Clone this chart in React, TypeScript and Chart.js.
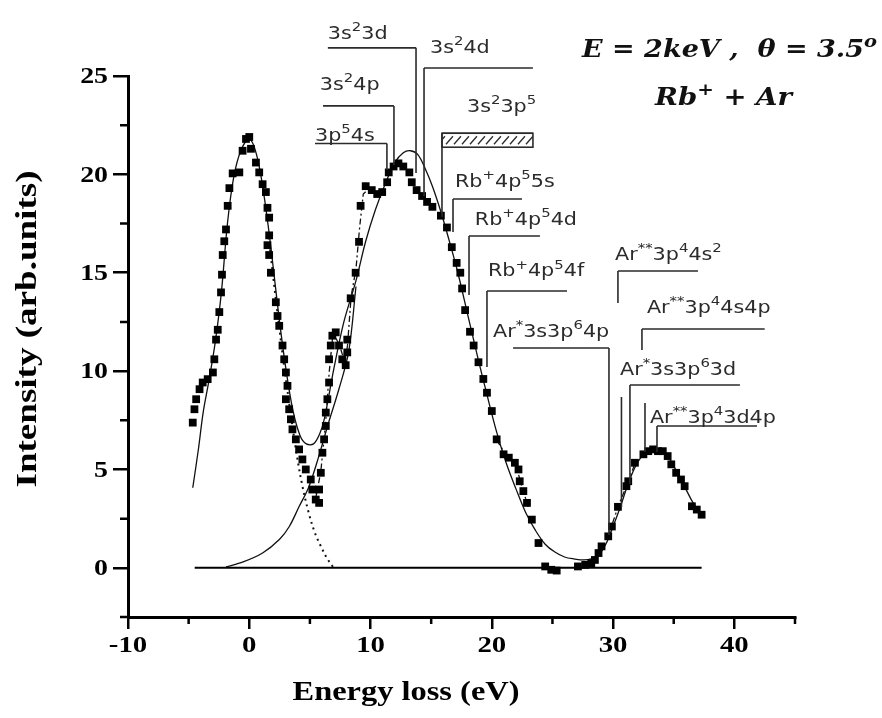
import React, { useEffect, useRef } from "react";
import { Chart, registerables } from "chart.js";
Chart.register(...registerables);

// ---------- data (energy loss eV, intensity arb. units) ----------
const expX = [-4.66, -4.52, -4.38, -4.1, -3.84, -3.43, -3.0, -2.88, -2.74, -2.6, -2.47, -2.33, -2.25, -2.19, -2.06, -1.92, -1.78, -1.64, -1.37, -0.82, -0.55, -0.27, 0, 0.14, 0.55, 0.82, 1.1, 1.37, 1.5, 1.64, 1.64, 1.5, 1.64, 1.78, 2.19, 2.33, 2.47, 2.74, 2.88, 3.02, 3.15, 3.02, 3.29, 3.43, 3.56, 3.84, 4.11, 4.38, 4.66, 5.07, 5.2, 5.48, 5.76, 5.76, 5.9, 6.03, 6.17, 6.31, 6.31, 6.44, 6.58, 6.58, 6.72, 6.85, 7.13, 7.4, 7.67, 7.95, 8.08, 8.08, 8.36, 8.77, 9.05, 9.18, 9.6, 10.1, 10.55, 10.96, 11.37, 11.5, 11.9, 12.3, 12.7, 13.2, 13.4, 13.8, 14.25, 14.66, 15.1, 15.8, 16.3, 16.7, 17.1, 17.4, 17.55, 17.8, 18.2, 18.5, 18.9, 19.3, 19.6, 20.0, 20.4, 20.97, 21.4, 21.9, 22.2, 22.3, 22.6, 22.9, 23.3, 23.85, 24.4, 24.9, 25.35, 27.1, 27.7, 28.2, 28.5, 28.8, 29.05, 29.6, 29.9, 30.4, 31.1, 31.25, 31.8, 32.5, 32.9, 33.3, 33.7, 34.1, 34.5, 34.8, 35.2, 35.6, 35.9, 36.5, 36.9, 37.3];
const expY = [7.38, 8.06, 8.57, 9.08, 9.42, 9.59, 9.93, 10.6, 11.6, 12.1, 13.0, 14.0, 14.9, 15.9, 16.6, 17.2, 18.4, 19.3, 20.05, 20.1, 21.2, 21.8, 21.9, 21.3, 20.6, 20.1, 19.5, 19.1, 18.3, 17.8, 16.9, 16.4, 15.9, 15.0, 13.5, 12.8, 12.3, 11.3, 10.6, 9.93, 9.25, 8.57, 8.06, 7.55, 7.04, 6.53, 6.02, 5.51, 5.0, 4.49, 3.98, 3.47, 3.3, 3.98, 4.83, 5.85, 6.53, 7.21, 7.89, 8.57, 9.42, 10.6, 11.3, 11.8, 11.97, 11.3, 10.6, 10.3, 10.95, 11.6, 13.7, 15.0, 16.57, 18.4, 19.4, 19.2, 19.0, 19.1, 19.6, 20.1, 20.4, 20.56, 20.4, 20.1, 19.6, 19.2, 18.9, 18.6, 18.35, 17.9, 17.3, 16.3, 15.5, 15.0, 14.2, 13.1, 12.0, 11.3, 10.45, 9.6, 8.9, 7.97, 6.53, 5.77, 5.6, 5.34, 5.0, 4.4, 3.9, 3.3, 2.45, 1.26, 0.07, -0.1, -0.14, 0.07, 0.15, 0.24, 0.4, 0.75, 1.09, 1.6, 2.1, 3.1, 4.15, 4.4, 5.34, 5.77, 5.93, 6.02, 5.93, 5.93, 5.68, 5.26, 4.83, 4.49, 4.15, 3.13, 2.96, 2.7];

// total fit (solid)
const fitX = [-4.66, -4.2, -3.8, -3.3, -2.8, -2.3, -1.8, -1.3, -0.7, 0, 0.6, 1.2, 1.8, 2.4, 3.0, 3.6, 4.2, 4.7, 5.3, 5.8, 6.2, 7.0, 7.8, 8.8, 9.6, 10.4, 11.2, 12.0, 12.7, 13.3, 13.9, 14.5, 15.1, 15.8, 16.5, 17.2, 18.0, 18.8, 19.6, 20.4, 21.2, 22.0, 22.8, 23.6, 24.4, 25.2, 26.0, 26.8, 27.6, 28.2, 28.8, 29.4, 30.0, 30.6, 31.2, 31.8, 32.4, 33.0, 33.6, 34.2, 34.8, 35.4, 36.0, 36.6, 37.3];
const fitY = [4.07, 6.0, 7.9, 9.6, 11.5, 14.0, 17.5, 19.8, 21.2, 21.8, 21.0, 19.0, 16.2, 13.0, 10.2, 8.0, 6.7, 6.3, 6.3, 6.8, 7.6, 10.2, 12.5, 14.6, 16.6, 18.2, 19.5, 20.6, 21.1, 21.2, 21.0, 20.3, 19.4, 18.1, 16.6, 15.0, 12.9, 10.8, 8.8, 6.9, 5.3, 4.0, 2.8, 1.9, 1.2, 0.8, 0.55, 0.45, 0.4, 0.45, 0.65, 1.2, 2.1, 3.1, 4.2, 5.1, 5.7, 6.05, 6.1, 5.9, 5.4, 4.7, 4.0, 3.3, 2.7];

// elastic component (dotted)
const comp1X = [1.6, 2.2, 2.8, 3.4, 3.9, 4.4, 4.9, 5.4, 5.9, 6.4, 6.9];
const comp1Y = [16.8, 13.6, 10.6, 7.9, 5.8, 4.1, 2.8, 1.8, 1.1, 0.5, 0.05];

// second component low-energy tail (solid)
const comp2X = [-1.92, -0.5, 1.1, 2.5, 3.3, 4.1, 4.9, 5.7, 6.5, 7.4, 8.2, 8.8];
const comp2Y = [0.05, 0.3, 0.75, 1.45, 2.1, 3.1, 4.1, 5.6, 7.3, 9.1, 11.0, 14.3];

// dash-dot guide through the data
const guideX = [5.5, 5.9, 6.3, 6.6, 6.9, 7.4, 7.9, 8.1, 8.4, 8.8, 9.1, 9.4, 9.9, null, 20.4, 21.2, 22.0, 22.4, 23.0, null, 29.6, 30.4, 31.2, 31.8];
const guideY = [3.6, 4.9, 7.4, 10.0, 11.9, 11.4, 10.4, 11.3, 13.8, 15.2, 17.3, 19.0, 19.3, null, 6.5, 5.7, 5.2, 4.3, 3.1, null, 1.6, 3.1, 4.3, 5.3];

const baseX = [-4.5, 37.3];
const baseY = [0, 0];

const xTicks = [-10, 0, 10, 20, 30, 40];
const xMinor = [-5, 5, 15, 25, 35, 45];
const yTicks = [0, 5, 10, 15, 20, 25];
const yMinor = [-2.5, 2.5, 7.5, 12.5, 17.5, 22.5];

// transition labels: text, text anchor (eV, intensity), bracket line
const annLabel = ["3s{2}3d", "3s{2}4d", "3s{2}4p", "3p{5}4s", "3s{2}3p{5}", "Rb{+}4p{5}5s", "Rb{+}4p{5}4d", "Rb{+}4p{5}4f", "Ar{*}3s3p{6}4p", "Ar{**}3p{4}4s{2}", "Ar{**}3p{4}4s4p", "Ar{*}3s3p{6}3d", "Ar{**}3p{4}3d4p"];
const annTextX = [6.48, 14.9, 5.82, 5.42, 17.95, 16.96, 18.6, 19.68, 20.1, 30.16, 32.79, 30.57, 33.04];
const annTextY = [26.88, 26.18, 24.29, 21.7, 23.19, 19.36, 17.43, 14.83, 11.73, 15.65, 12.95, 9.8, 7.36];
const annLineY = [26.43, 25.41, 23.48, 21.57, 22.09, 18.75, 16.87, 14.07, 11.17, 15.09, 12.14, 9.29, 7.21];
const annLineX1 = [6.48, 14.41, 6.08, 5.42, 15.89, 16.8, 18.12, 19.6, 21.75, 30.4, 32.38, 31.39, 33.62];
const annLineX2 = [13.75, 23.39, 11.93, 11.35, 23.39, 22.49, 23.97, 26.2, 29.66, 37.0, 42.5, 40.46, 41.87];
const annDropX = [13.75, 14.41, 11.93, 11.35, 15.89, 16.8, 18.12, 19.6, 29.66, 30.4, 32.38, 31.39, 33.62];
const annDropTo = [20.07, 18.9, 20.47, 20.22, 17.83, 17.07, 13.87, 10.21, 1.67, 13.46, 11.07, 4.26, 5.89];
// hatched band for 3s23p5 (eV range, intensity range)
const bandX = [15.89, 23.39];
const bandY = [21.38, 22.09];
// continuation segments of brackets below their labels
const extraX = [30.69, 32.63];
const extraY1 = [8.68, 8.38];
const extraY2 = [3.09, 5.89];

const pts = (xs: (number | null)[], ys: (number | null)[]) =>
  xs.map((x, i) => ({ x: x as any, y: ys[i] as any }));

type Seg = { t: string; sup: boolean };
function parseRich(s: string): Seg[] {
  const out: Seg[] = [];
  const re = /\{([^}]*)\}/g;
  let last = 0;
  let m: RegExpExecArray | null;
  while ((m = re.exec(s))) {
    if (m.index > last) out.push({ t: s.slice(last, m.index), sup: false });
    out.push({ t: m[1], sup: true });
    last = m.index + m[0].length;
  }
  if (last < s.length) out.push({ t: s.slice(last), sup: false });
  return out;
}

function richWidth(ctx: CanvasRenderingContext2D, segs: Seg[], font: (sz: number) => string, size: number) {
  let w = 0;
  for (const s of segs) {
    ctx.font = font(s.sup ? size * 0.72 : size);
    w += ctx.measureText(s.t).width;
  }
  return w;
}

function drawRich(
  ctx: CanvasRenderingContext2D,
  segs: Seg[],
  x: number,
  y: number,
  font: (sz: number) => string,
  size: number,
  stretch: number
) {
  ctx.save();
  ctx.translate(x, y);
  ctx.scale(stretch, 1);
  ctx.textAlign = "left";
  ctx.textBaseline = "alphabetic";
  let cx = 0;
  for (const s of segs) {
    const fs = s.sup ? size * 0.72 : size;
    ctx.font = font(fs);
    ctx.fillText(s.t, cx, s.sup ? -size * 0.42 : 0);
    cx += ctx.measureText(s.t).width;
  }
  ctx.restore();
}

const SERIF = "'Liberation Serif', 'Times New Roman', serif";
const SANS = "'DejaVu Sans', Verdana, sans-serif";

const decorPlugin = {
  id: "decor",
  afterDraw(chart: any) {
    const { ctx } = chart;
    const xs = chart.scales.x;
    const ys = chart.scales.y;
    const X = (v: number) => xs.getPixelForValue(v);
    const Y = (v: number) => ys.getPixelForValue(v);
    const left = chart.chartArea.left;
    const bottom = chart.chartArea.bottom;
    ctx.save();

    // minor ticks
    ctx.strokeStyle = "#000";
    ctx.lineWidth = 2.5;
    ctx.beginPath();
    yMinor.forEach((v) => {
      ctx.moveTo(left, Y(v));
      ctx.lineTo(left - 8, Y(v));
    });
    xMinor.forEach((v) => {
      ctx.moveTo(X(v), bottom);
      ctx.lineTo(X(v), bottom + 7);
    });
    ctx.stroke();

    // tick labels (bold serif, slightly wide like the source)
    ctx.fillStyle = "#000";
    ctx.font = `bold 24px ${SERIF}`;
    ctx.textBaseline = "middle";
    ys.ticks.forEach((t: any) => {
      const s = String(t.value);
      const w = ctx.measureText(s).width * 1.16;
      ctx.save();
      ctx.translate(108 - w, Y(t.value) + 1);
      ctx.scale(1.16, 1);
      ctx.textAlign = "left";
      ctx.fillText(s, 0, 0);
      ctx.restore();
    });
    ctx.textBaseline = "alphabetic";
    xs.ticks.forEach((t: any) => {
      const s = String(t.value);
      ctx.save();
      ctx.translate(X(t.value), 652);
      ctx.scale(1.2, 1);
      ctx.textAlign = "center";
      ctx.fillText(s, 0, 0);
      ctx.restore();
    });

    // brackets
    ctx.strokeStyle = "#2b2b2b";
    ctx.lineWidth = 1.6;
    ctx.beginPath();
    annLabel.forEach((_, i) => {
      ctx.moveTo(X(annLineX1[i]), Y(annLineY[i]));
      ctx.lineTo(X(annLineX2[i]), Y(annLineY[i]));
      ctx.moveTo(X(annDropX[i]), Y(annLineY[i]));
      ctx.lineTo(X(annDropX[i]), Y(annDropTo[i]));
    });
    extraX.forEach((v, i) => {
      ctx.moveTo(X(v), Y(extraY1[i]));
      ctx.lineTo(X(v), Y(extraY2[i]));
    });
    ctx.stroke();

    // hatched band
    const bx1 = X(bandX[0]), bx2 = X(bandX[1]);
    const by1 = Y(bandY[1]), by2 = Y(bandY[0]);
    ctx.lineWidth = 1.6;
    ctx.strokeRect(bx1, by1, bx2 - bx1, by2 - by1);
    ctx.save();
    ctx.beginPath();
    ctx.rect(bx1, by1, bx2 - bx1, by2 - by1);
    ctx.clip();
    ctx.lineWidth = 1.3;
    ctx.beginPath();
    for (let px = bx1 - 12; px < bx2 + 12; px += 8) {
      ctx.moveTo(px, by2 - 3);
      ctx.lineTo(px + 7, by1 + 3);
    }
    ctx.stroke();
    ctx.restore();

    // labels
    ctx.fillStyle = "#2b2b2b";
    const sansF = (sz: number) => `${sz}px ${SANS}`;
    annLabel.forEach((lab, i) => {
      drawRich(ctx, parseRich(lab), X(annTextX[i]), Y(annTextY[i]), sansF, 18, 1.15);
    });

    // condition text
    ctx.fillStyle = "#111";
    const titleF = (sz: number) => `italic bold ${sz}px 'DejaVu Serif', serif`;
    const t1 = parseRich("E = 2keV ,  θ = 3.5{o}");
    const w1 = richWidth(ctx, t1, titleF, 24);
    drawRich(ctx, t1, 582, 57, titleF, 24, 295 / w1);
    const t2 = parseRich("Rb{+} + Ar");
    const w2 = richWidth(ctx, t2, titleF, 24);
    drawRich(ctx, t2, 655, 105, titleF, 24, 137 / w2);

    // axis titles
    ctx.fillStyle = "#000";
    ctx.font = `bold 30px ${SERIF}`;
    ctx.textAlign = "center";
    ctx.textBaseline = "middle";
    const yt = "Intensity (arb.units)";
    const ytw = ctx.measureText(yt).width;
    ctx.save();
    ctx.translate(28, 329);
    ctx.rotate(-Math.PI / 2);
    ctx.scale(317 / ytw, 1);
    ctx.fillText(yt, 0, 0);
    ctx.restore();

    ctx.font = `bold 28px ${SERIF}`;
    ctx.textBaseline = "alphabetic";
    const xt = "Energy loss (eV)";
    const xtw = ctx.measureText(xt).width;
    ctx.save();
    ctx.translate(406, 700);
    ctx.scale(227 / xtw, 1);
    ctx.fillText(xt, 0, 0);
    ctx.restore();

    ctx.restore();
  },
};

export default function App() {
  const ref = useRef<HTMLCanvasElement | null>(null);
  useEffect(() => {
    if (!ref.current) return;
    const chart = new Chart(ref.current, {
      type: "scatter",
      data: {
        datasets: [
          {
            data: pts(expX, expY),
            pointStyle: "rect",
            pointRadius: 5.5,
            pointBackgroundColor: "#000",
            pointBorderColor: "#000",
            pointBorderWidth: 0,
            showLine: false,
          },
          {
            data: pts(fitX, fitY),
            showLine: true,
            pointRadius: 0,
            borderColor: "#111",
            borderWidth: 1.3,
            tension: 0.35,
          },
          {
            data: pts(comp1X, comp1Y),
            showLine: true,
            pointRadius: 0,
            borderColor: "#111",
            borderWidth: 2,
            borderDash: [2, 4],
            tension: 0.35,
          },
          {
            data: pts(comp2X, comp2Y),
            showLine: true,
            pointRadius: 0,
            borderColor: "#111",
            borderWidth: 1.3,
            tension: 0.35,
          },
          {
            data: pts(guideX, guideY),
            showLine: true,
            spanGaps: false,
            pointRadius: 0,
            borderColor: "#111",
            borderWidth: 1.3,
            borderDash: [6, 3, 2, 3],
            tension: 0,
          },
          {
            data: pts(baseX, baseY),
            showLine: true,
            pointRadius: 0,
            borderColor: "#000",
            borderWidth: 2,
          },
        ],
      },
      options: {
        animation: false,
        responsive: false,
        devicePixelRatio: 1,
        layout: { padding: { left: 0, top: 76, right: 87, bottom: 0 } },
        plugins: { legend: { display: false }, tooltip: { enabled: false } },
        scales: {
          x: {
            type: "linear",
            min: -10,
            max: 45,
            afterBuildTicks: (s: any) => {
              s.ticks = xTicks.map((v) => ({ value: v }));
            },
            afterFit: (s: any) => {
              s.height = 101;
            },
            ticks: { display: false, autoSkip: false },
            grid: { drawOnChartArea: false, drawTicks: true, tickLength: 12, lineWidth: 2.5, color: "#000", tickColor: "#000" },
            border: { display: true, width: 3, color: "#000" },
          },
          y: {
            type: "linear",
            min: -2.5,
            max: 25,
            afterBuildTicks: (s: any) => {
              s.ticks = yTicks.map((v) => ({ value: v }));
            },
            afterFit: (s: any) => {
              s.width = 128;
            },
            ticks: { display: false, autoSkip: false },
            grid: { drawOnChartArea: false, drawTicks: true, tickLength: 15, lineWidth: 2.5, color: "#000", tickColor: "#000" },
            border: { display: true, width: 3, color: "#000" },
          },
        },
      },
      plugins: [decorPlugin],
    });
    return () => chart.destroy();
  }, []);
  return (
    <div style={{ position: "fixed", left: 0, top: 0, width: 882, height: 718, background: "#fff" }}>
      <canvas ref={ref} width={882} height={718} style={{ display: "block" }} />
    </div>
  );
}
